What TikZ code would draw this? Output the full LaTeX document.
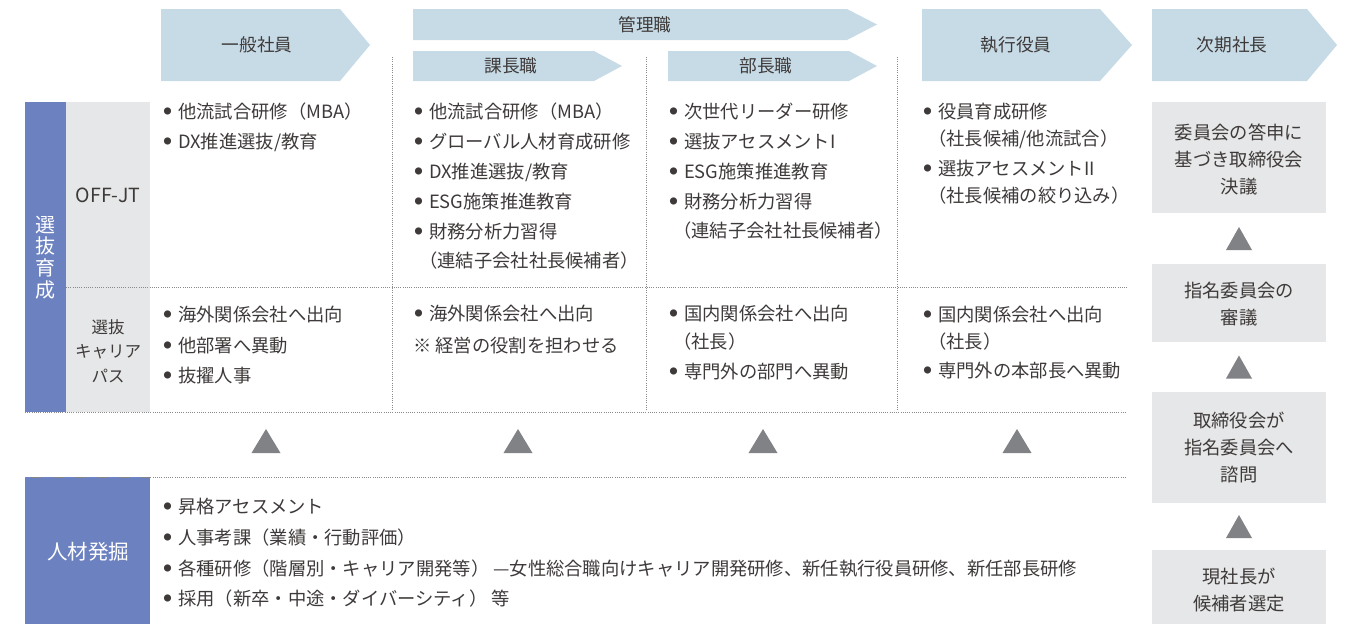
\documentclass[tikz,border=0pt]{standalone}
\usepackage{fontspec}
\setmainfont{Noto Sans CJK JP}
\definecolor{hdrblue}{HTML}{C7DBE7}
\definecolor{leftblue}{HTML}{6C81BF}
\definecolor{boxgray}{HTML}{E6E7E8}
\definecolor{trigray}{HTML}{808285}
\definecolor{txt}{HTML}{3E3A39}
\definecolor{dotgray}{HTML}{8A8A8A}
\newcommand\bu{\makebox[14.5pt][l]{\raisebox{3.9pt}{\fontsize{8}{8}\selectfont ●}}}
\newcommand\tri[4]{\fill[tri] ({#1-#3/2},{#2+#4}) -- (#1,#2) -- ({#1+#3/2},{#2+#4}) -- cycle;}
\tikzset{
  hdr/.style={fill=hdrblue},
  hdrtxt/.style={font=\fontsize{17.7}{20}\selectfont, text=txt, inner sep=0},
  item/.style={anchor=base west, inner sep=0, font=\fontsize{18.3}{22}\selectfont, text=txt},
  dots/.style={draw=dotgray, line width=0.9pt, dash pattern=on 0.9pt off 1.3pt},
  tri/.style={fill=trigray},
  rbox/.style={fill=boxgray},
  rtxt/.style={align=center, font=\fontsize{18.3}{27}\selectfont, text=txt, inner sep=0},
}
\begin{document}
\begin{tikzpicture}[x=1pt,y=-1pt]
\useasboundingbox (0,0) rectangle (1358,624);
% header arrows
\fill[hdr] (161,9) -- (340,9) -- (370,45) -- (340,81) -- (161,81) -- cycle;
\fill[hdr] (413,9) -- (847,9) -- (877,24.5) -- (847,40) -- (413,40) -- cycle;
\fill[hdr] (413,51) -- (594,51) -- (622,66) -- (594,81) -- (413,81) -- cycle;
\fill[hdr] (668,51) -- (849,51) -- (877,66) -- (849,81) -- (668,81) -- cycle;
\fill[hdr] (922,9) -- (1100,9) -- (1132,45) -- (1100,81) -- (922,81) -- cycle;
\fill[hdr] (1152,9) -- (1307,9) -- (1337,45) -- (1307,81) -- (1152,81) -- cycle;
\node[hdrtxt] (h1) at (257,45) {一般社員};
\node[hdrtxt] (h2) at (645,25) {管理職};
\node[hdrtxt] (h3) at (511,66) {課長職};
\node[hdrtxt] (h4) at (766,66) {部長職};
\node[hdrtxt] (h5) at (1016,45) {執行役員};
\node[hdrtxt] (h6) at (1232,45) {次期社長};
% left labels
\fill[leftblue] (25,102) rectangle (66,412);
\fill[boxgray] (66,102) rectangle (150,412);
\node[align=center, font=\fontsize{20}{21.7}\selectfont, text=white, inner sep=0] (sel) at (45.5,257.5) {選\\抜\\育\\成};
\node[font=\fontsize{19.5}{22}\selectfont, text=txt, inner sep=0] (offjt) at (108,195) {OFF-JT};
\node[align=center, font=\fontsize{16.5}{24.5}\selectfont, text=txt, inner sep=0] (cp) at (108,351) {選抜\\キャリア\\パス};
% dotted grid
\draw[dots] (392,57) -- (392,411);
\draw[dots] (646,57) -- (646,411);
\draw[dots] (897,57) -- (897,411);
\draw[dots] (66,287) -- (1127,287);
\draw[dots] (25,412) -- (1127,412);
% OFF-JT items
\node[item] (a1) at (163.5,118.7) {\bu 他流試合研修（MBA）};
\node[item] (a2) at (163.5,148.7) {\bu DX推進選抜/教育};
\node[item] (b1) at (414.5,118.7) {\bu 他流試合研修（MBA）};
\node[item] (b2) at (414.5,148.7) {\bu グローバル人材育成研修};
\node[item] (b3) at (414.5,178.7) {\bu DX推進選抜/教育};
\node[item] (b4) at (414.5,208.7) {\bu ESG施策推進教育};
\node[item] (b5) at (414.5,238.7) {\bu 財務分析力習得};
\node[item] (b6) at (419,267) {（連結子会社社長候補者）};
\node[item] (c1) at (669.5,118.7) {\bu 次世代リーダー研修};
\node[item] (c2) at (669.5,148.7) {\bu 選抜アセスメントI};
\node[item] (c3) at (669.5,178.7) {\bu ESG施策推進教育};
\node[item] (c4) at (669.5,208.7) {\bu 財務分析力習得};
\node[item] (c5) at (673,237) {（連結子会社社長候補者）};
\node[item] (d1) at (923.5,118.7) {\bu 役員育成研修};
\node[item] (d2) at (928,145.3) {（社長候補/他流試合）};
\node[item] (d3) at (923.5,175.3) {\bu 選抜アセスメントII};
\node[item] (d4) at (928,202) {（社長候補の絞り込み）};
% career path items
\node[item] (e1) at (163.5,321.5) {\bu 海外関係会社へ出向};
\node[item] (e2) at (163.5,352) {\bu 他部署へ異動};
\node[item] (e3) at (163.5,382) {\bu 抜擢人事};
\node[item] (f1) at (414.5,320.5) {\bu 海外関係会社へ出向};
\node[item] (f2) at (413,352) {※ 経営の役割を担わせる};
\node[item] (g1) at (669.5,320.5) {\bu 国内関係会社へ出向};
\node[item] (g2) at (673,348.7) {（社長）};
\node[item] (g3) at (669.5,378.7) {\bu 専門外の部門へ異動};
\node[item] (k1) at (923.5,321) {\bu 国内関係会社へ出向};
\node[item] (k2) at (928,348.7) {（社長）};
\node[item] (k3) at (923.5,377) {\bu 専門外の本部長へ異動};
% triangles between rows
\tri{266}{429}{29}{24}
\tri{518}{429}{29}{24}
\tri{763}{429}{29}{24}
\tri{1017}{429}{29}{24}
% talent discovery
\fill[leftblue] (25,477) rectangle (150,624);
\draw[dots] (25,477) -- (1127,477);
\node[font=\fontsize{20.5}{22}\selectfont, text=white, inner sep=0] (jin) at (88,552) {人材発掘};
\node[item] (m1) at (163.5,513.7) {\bu 昇格アセスメント};
\node[item] (m2) at (163.5,544) {\bu 人事考課（業績・行動評価）};
\node[item] (m3) at (163.5,575) {\bu 各種研修（階層別・キャリア開発等） —女性総合職向けキャリア開発研修、新任執行役員研修、新任部長研修};
\node[item] (m4) at (163.5,605) {\bu 採用（新卒・中途・ダイバーシティ） 等};
% right column
\fill[rbox] (1152,102) rectangle (1326,213);
\fill[rbox] (1152,264) rectangle (1326,342);
\fill[rbox] (1152,392) rectangle (1326,503);
\fill[rbox] (1152,550) rectangle (1326,624);
\node[rtxt] (r1) at (1239,159) {委員会の答申に\\基づき取締役会\\決議};
\node[rtxt] (r2) at (1239,304) {指名委員会の\\審議};
\node[rtxt] (r3) at (1239,447.5) {取締役会が\\指名委員会へ\\諮問};
\node[rtxt] (r4) at (1239,590.5) {現社長が\\候補者選定};
\tri{1239}{227}{26}{23}
\tri{1239}{355.5}{26}{23}
\tri{1239}{515}{26}{23}
\end{tikzpicture}
\end{document}
